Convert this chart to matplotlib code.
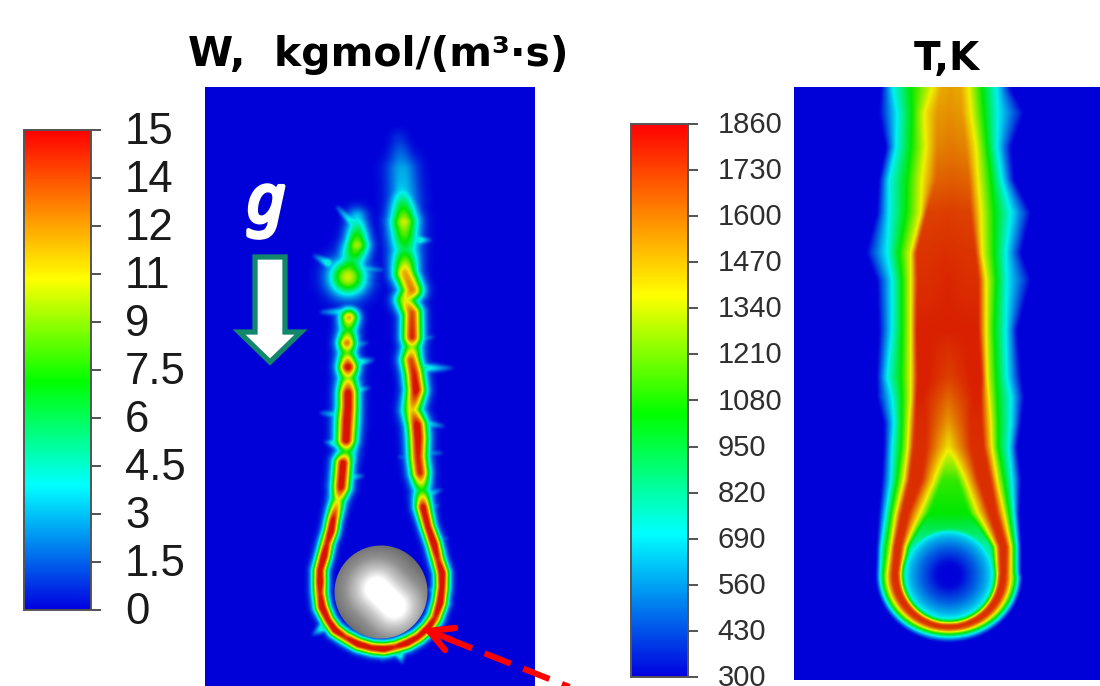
"""Burning particle in a falling flow: reaction rate W and temperature T fields with colorbars."""
import numpy as np
import matplotlib
matplotlib.use('Agg')
import matplotlib.pyplot as plt
import matplotlib.patheffects as pe
from matplotlib.colors import LinearSegmentedColormap, Normalize
from matplotlib.cm import ScalarMappable
from matplotlib.patches import Circle, Polygon
from matplotlib.transforms import ScaledTranslation

W_PX, H_PX = 1100, 686

# colour scale; the contour panels render a duller red than the bars
cmap_fracs = [0.0, 0.26, 0.475, 0.69, 1.0]
cmap_colors = ['#0000e0', '#00ffff', '#00ff00', '#ffff00', '#ff0000']
field_colors = ['#0000d8', '#00f0f0', '#00e800', '#f0f000', '#d81400']

# W colorbar
w_min, w_max = 0, 15
w_ticks = [15, 13.5, 12, 10.5, 9, 7.5, 6, 4.5, 3, 1.5, 0]
w_labels = ['15', '14', '12', '11', '9', '7.5', '6', '4.5', '3', '1.5', '0']

# T colorbar
t_min, t_max = 300, 1860
t_ticks = [1860, 1730, 1600, 1470, 1340, 1210, 1080, 950, 820, 690, 560, 430, 300]
t_labels = [str(v) for v in t_ticks]

# W flame sheet, walked from the left strand round the particle and up the right strand (image px)
sheet_x = [349, 348, 347, 347, 348, 348, 348, 348, 347, 346, 347, 343, 341, 338, 333, 331, 327, 324, 320, 320,
           320, 322, 328, 335, 345, 358, 372, 384, 395, 407, 418, 428, 435, 440, 442, 442, 438, 434, 428, 423,
           422, 420, 418, 418, 417, 412, 416, 414, 411, 412, 412, 412, 405, 412, 405, 405, 404, 402, 397]
sheet_y = [318, 330, 343, 353, 367, 378, 393, 407, 420, 440, 452, 463, 487, 500, 520, 531, 543, 556, 570, 582,
           593, 607, 620, 630, 637, 644, 648, 649, 647, 643, 637, 628, 618, 603, 587, 573, 560, 544, 527, 507,
           490, 473, 457, 437, 425, 410, 390, 373, 360, 347, 337, 313, 300, 290, 273, 250, 222, 190, 167]
sheet_peak = [12, 7, 13, 8, 16, 9, 16, 16, 16, 16, 7, 16, 16, 10, 16, 17, 15, 17, 16, 17,
              15, 17, 16, 17, 15, 17, 16, 17, 15, 17, 16, 17, 15, 17, 16, 17, 15, 17, 16, 16,
              7, 15, 15, 16, 16, 11, 16, 15, 14, 9, 15, 14, 10, 13, 12, 6, 10, 3.5, 2]
sheet_width = [9.5, 9.5, 9.5, 9.5, 10, 10, 10, 10, 10.5, 10, 9.5, 9, 9, 8, 7, 7, 7, 7, 7, 7,
               7, 7, 6.5, 6.5, 6.5, 6.5, 6.5, 6.5, 6.5, 6.5, 6.5, 6.5, 7, 7, 7, 7, 7, 7, 7, 8,
               9, 9.5, 9.5, 10, 10, 10, 10, 10, 10, 10, 10, 10, 10.5, 11, 12, 14, 14, 12, 10]

# detached blobs at the top of the left strand, and the faint glow over the right one
blob_x = [357, 357, 352, 348, 347]
blob_y = [218, 245, 260, 277, 298]
blob_peak = [3.5, 9.5, 6, 10, 1.5]
blob_width = [10, 12, 14, 18, 9]
glow_x = [404, 402, 399]
glow_y = [200, 170, 140]
glow_peak = [3.4, 2.8, 0.8]
glow_width = [15, 15, 9]

# thin spikes sticking out of the sheet
spike_x0 = [328, 352, 425, 360, 340, 424, 358, 420, 412, 355, 414, 334, 350, 420, 325, 430, 338, 435, 322, 440,
            330, 322, 350, 400, 430, 415, 352, 345, 336, 427, 428, 380]
spike_y0 = [263, 222, 368, 362, 415, 423, 390, 240, 233, 268, 453, 443, 477, 457, 570, 540, 520, 590, 600, 600,
            545, 628, 635, 655, 632, 340, 345, 312, 500, 495, 510, 652]
spike_x1 = [315, 338, 450, 372, 322, 442, 368, 430, 385, 382, 440, 326, 362, 400, 314, 446, 328, 452, 312, 452,
            320, 314, 344, 402, 440, 432, 366, 322, 326, 440, 438, 382]
spike_y1 = [256, 208, 368, 360, 413, 426, 388, 240, 233, 270, 453, 442, 476, 457, 568, 538, 518, 590, 602, 604,
            540, 634, 646, 662, 640, 337, 343, 312, 498, 490, 505, 660]

# particle in the W panel
ball_x, ball_y, ball_r = 381, 592, 46.5
ball_hi_x = [377, 394]
ball_hi_y = [589, 606]
ball_dist = [0, 11, 20, 32, 52]
ball_grey = [1.0, 1.0, 0.78, 0.56, 0.36]

# T plume: per row, x position of each isotherm left and right (image px)
row_y = [90, 113, 147, 180, 213, 253, 280, 330, 377, 397, 423, 447, 480, 513, 547, 575]
left_blue = [881, 879, 886, 879, 877, 866, 877, 879, 877, 877, 884, 884, 882, 879, 877, 876]
left_cyan = [893, 897, 896, 889, 889, 887, 892, 892, 887, 892, 894, 892, 891, 886, 881, 880]
left_green = [911, 912, 911, 907, 906, 899, 902, 902, 901, 902, 902, 901, 897, 891, 886, 883]
left_yellow = [932, 924, 926, 922, 921, 911, 911, 911, 911, 911, 909, 908, 904, 896, 891, 887]
left_red = [941, 937, 937, 936, 926, 916, 917, 916, 917, 916, 915, 913, 909, 901, 894, 892]
right_red = [961, 962, 966, 969, 971, 976, 979, 979, 982, 981, 982, 984, 991, 997, 1007, 1006]
right_yellow = [969, 971, 976, 978, 981, 982, 986, 986, 987, 989, 991, 992, 997, 1004, 1011, 1011]
right_green = [982, 984, 987, 991, 994, 994, 996, 994, 996, 997, 998, 998, 1004, 1009, 1014, 1014]
right_cyan = [997, 998, 997, 1002, 1011, 1006, 1007, 1006, 1007, 1011, 1011, 1009, 1012, 1014, 1017, 1017]
right_blue = [1011, 1024, 1011, 1014, 1031, 1021, 1031, 1017, 1021, 1024, 1021, 1017, 1021, 1019, 1021, 1021]
row_peak = [1540, 1570, 1620, 1690, 1760, 1790, 1800, 1830, 1830, 1830, 1810, 1800, 1800, 1800, 1800, 1800]
row_centre = [1560, 1590, 1640, 1700, 1770, 1800, 1820, 1830, 1760, 1680, 1560, 1400, 1110, 1041, 800, 800]
row_flat = [0, 0, 0, 0, 0, 0, 0, 0, 0, 0, 0, 0, 8, 20, 40, 45]
row_core = [5, 8, 10, 12, 15, 20, 20, 20, 20, 25, 22, 22, 28, 40, 49, 51]

# isotherm levels used in the table, ring centre, and radial profiles of the ring
iso_blue, iso_cyan, iso_green, iso_yellow = 300, 706, 1041, 1376
ring_x, ring_y = 949, 575
inner_r = [0, 12, 28, 38, 44, 48.5]
inner_t = [300, 310, 470, 600, 720, 1376]
ring_t = [1376, 1800, 1800, 1376, 1041, 706, 300]
ring_r_side = [48.5, 50, 57, 62, 66, 69, 73]
ring_r_bottom = [47.5, 49.5, 54, 57, 59, 62, 67]


def px_axes(fig, x0, y0, x1, y1):
    return fig.add_axes([x0 / W_PX, 1 - y1 / H_PX, (x1 - x0) / W_PX, (y1 - y0) / H_PX])


def blur(field):
    kernel = np.array([1, 2, 3, 2, 1], dtype=float) / 9.0
    out = np.apply_along_axis(lambda r: np.convolve(r, kernel, mode='same'), 0, np.pad(field, 3, mode='edge'))
    out = np.apply_along_axis(lambda r: np.convolve(r, kernel, mode='same'), 1, out)
    return out[3:-3, 3:-3]


def strand_field(xx, yy, xs, ys, peaks, widths):
    # gaussian ridge along a polyline, taking the highest value of all the segments
    out = np.zeros_like(xx, dtype=float)
    for i in range(len(xs) - 1):
        dx, dy = xs[i + 1] - xs[i], ys[i + 1] - ys[i]
        t = np.clip(((xx - xs[i]) * dx + (yy - ys[i]) * dy) / (dx * dx + dy * dy), 0, 1)
        dist2 = (xx - xs[i] - t * dx) ** 2 + (yy - ys[i] - t * dy) ** 2
        peak = peaks[i] + t * (peaks[i + 1] - peaks[i])
        width = widths[i] + t * (widths[i + 1] - widths[i])
        out = np.maximum(out, peak * np.exp(-dist2 / width ** 2))
    return out


def build_w_field(xx, yy):
    field = strand_field(xx, yy, sheet_x, sheet_y, sheet_peak, sheet_width)
    field = np.maximum(field, strand_field(xx, yy, blob_x, blob_y, blob_peak, blob_width))
    field = np.maximum(field, strand_field(xx, yy, glow_x, glow_y, glow_peak, glow_width))
    for x0, y0, x1, y1 in zip(spike_x0, spike_y0, spike_x1, spike_y1):
        field = np.maximum(field, strand_field(xx, yy, [x0, x1], [y0, y1], [5, 1.5], [5, 2]))
    return field


def build_t_field(xs, ys):
    field = np.full((len(ys), len(xs)), float(iso_blue))
    for j, y in enumerate(ys):
        if y > ring_y:
            break
        at = lambda col: np.interp(y, row_y, col)
        centre = 0.5 * (at(left_red) + at(right_red))
        core = at(row_core)
        flat = at(row_flat)
        peak = at(row_peak)
        mid = at(row_centre)
        xp = [at(left_blue), at(left_cyan), at(left_green), at(left_yellow), at(left_red), centre - core,
              centre - flat - 0.01, centre + flat + 0.01,
              centre + core, at(right_red), at(right_yellow), at(right_green), at(right_cyan), at(right_blue)]
        fp = [iso_blue, iso_cyan, iso_green, iso_yellow, peak, peak, mid, mid,
              peak, peak, iso_yellow, iso_green, iso_cyan, iso_blue]
        field[j] = np.interp(xs, xp, fp)
    xx, yy = np.meshgrid(xs, ys)
    rr = np.hypot(xx - ring_x, yy - ring_y)
    # lower half of the ring, radii blend from the side profile to the bottom profile
    for j, i in zip(*np.nonzero((yy > ring_y) & (rr < 90))):
        w = ((yy[j, i] - ring_y) / rr[j, i]) ** 2
        radii = [s + w * (b - s) for s, b in zip(ring_r_side, ring_r_bottom)]
        field[j, i] = np.interp(rr[j, i], radii, ring_t)
    inside = rr < inner_r[-1]
    field[inside] = np.minimum(field[inside], np.interp(rr[inside], inner_r, inner_t))
    return field


def add_colorbar(fig, box, vmin, vmax, ticks, labels, cmap, size, pad, color):
    cax = px_axes(fig, *box)
    cb = fig.colorbar(ScalarMappable(Normalize(vmin, vmax), cmap), cax=cax)
    cb.set_ticks(ticks)
    cb.set_ticklabels(labels)
    cb.minorticks_off()
    cb.outline.set_edgecolor('#555555')
    cb.outline.set_linewidth(1.4)
    cax.tick_params(length=7, width=1.3, color='#444444', pad=pad, labelsize=size, labelcolor=color)
    for lab in cax.get_yticklabels():
        lab.set_family(['Liberation Sans', 'DejaVu Sans'])
        lab.set_transform(lab.get_transform() + ScaledTranslation(0, 2 / 100, fig.dpi_scale_trans))


def main():
    cmap = LinearSegmentedColormap.from_list('tecplot', list(zip(cmap_fracs, cmap_colors)), N=512)
    field_cmap = LinearSegmentedColormap.from_list('field', list(zip(cmap_fracs, field_colors)), N=512)
    fig = plt.figure(figsize=(W_PX / 100, H_PX / 100), dpi=100, facecolor='white')

    # W panel
    ax_w = px_axes(fig, 205, 87, 535, 686)
    xs = np.arange(205, 535) + 0.5
    ys = np.arange(87, 686) + 0.5
    xx, yy = np.meshgrid(xs, ys)
    ax_w.imshow(blur(build_w_field(xx, yy)), cmap=field_cmap, vmin=w_min, vmax=w_max, extent=[205, 535, 686, 87],
                aspect='auto', interpolation='bilinear')
    ax_w.axis('off')

    # particle, grey falls off with the distance to the highlight streak
    hx, hy = ball_hi_x[1] - ball_hi_x[0], ball_hi_y[1] - ball_hi_y[0]
    s = np.clip(((xx - ball_hi_x[0]) * hx + (yy - ball_hi_y[0]) * hy) / (hx * hx + hy * hy), 0, 1)
    dist = np.hypot(xx - ball_hi_x[0] - s * hx, yy - ball_hi_y[0] - s * hy)
    im = ax_w.imshow(np.interp(dist, ball_dist, ball_grey), cmap='gray', vmin=0, vmax=1,
                     extent=[205, 535, 686, 87], aspect='auto', interpolation='bilinear')
    im.set_clip_path(Circle((ball_x, ball_y), ball_r, transform=ax_w.transData))
    ax_w.set_xlim(205, 535)
    ax_w.set_ylim(686, 87)

    # T panel
    ax_t = px_axes(fig, 794, 87, 1100, 680)
    xs_t = np.arange(794, 1100) + 0.5
    ys_t = np.arange(87, 680) + 0.5
    ax_t.imshow(blur(build_t_field(xs_t, ys_t)), cmap=field_cmap, vmin=t_min, vmax=t_max,
                extent=[794, 1100, 680, 87], aspect='auto', interpolation='bilinear')
    ax_t.axis('off')

    add_colorbar(fig, (24, 130, 91, 610), w_min, w_max, w_ticks, w_labels, cmap, 31.5, 17.5, '#1a1a1a')
    add_colorbar(fig, (631, 124, 688, 677), t_min, t_max, t_ticks, t_labels, cmap, 21, 14.5, '#2e2e2e')

    # overlay in image pixels for titles and annotations
    over = fig.add_axes([0, 0, 1, 1], facecolor='none')
    over.set_xlim(0, W_PX)
    over.set_ylim(H_PX, 0)
    over.axis('off')
    over.text(378, 55, 'W,  kgmol/(m³·s)', fontsize=29.5, fontweight='bold', ha='center', va='center',
              family='DejaVu Sans', color='black')
    over.text(947, 59, 'T,K', fontsize=28, fontweight='bold', ha='center', va='center',
              family='DejaVu Sans', color='black')
    # the italic face has no bold cut here, so thicken it with a stroke
    over.text(266, 204, 'g', fontsize=48, style='italic', ha='center', va='center', family='Noto Sans', color='white',
              path_effects=[pe.withStroke(linewidth=3, foreground='white')])
    over.add_patch(Polygon([(255, 257), (285, 257), (285, 332), (301, 332), (270, 362), (239, 332), (255, 332)],
                           closed=True, facecolor='white', edgecolor='#12876b', linewidth=3.8, joinstyle='miter'))

    # red dashed pointer to the flame sheet
    over.plot([446, 572], [638, 688], color='#ff0000', lw=4.4, dashes=(4.6, 2.2), dash_capstyle='butt')
    over.plot([455, 429, 445], [628, 631, 650], color='#ff0000', lw=4.6, solid_capstyle='round',
              solid_joinstyle='miter')
    over.plot([429, 452], [631, 640], color='#ff0000', lw=4.4, solid_capstyle='butt')

    fig.savefig('out.png', dpi=100)
    plt.close(fig)


if __name__ == '__main__':
    main()
